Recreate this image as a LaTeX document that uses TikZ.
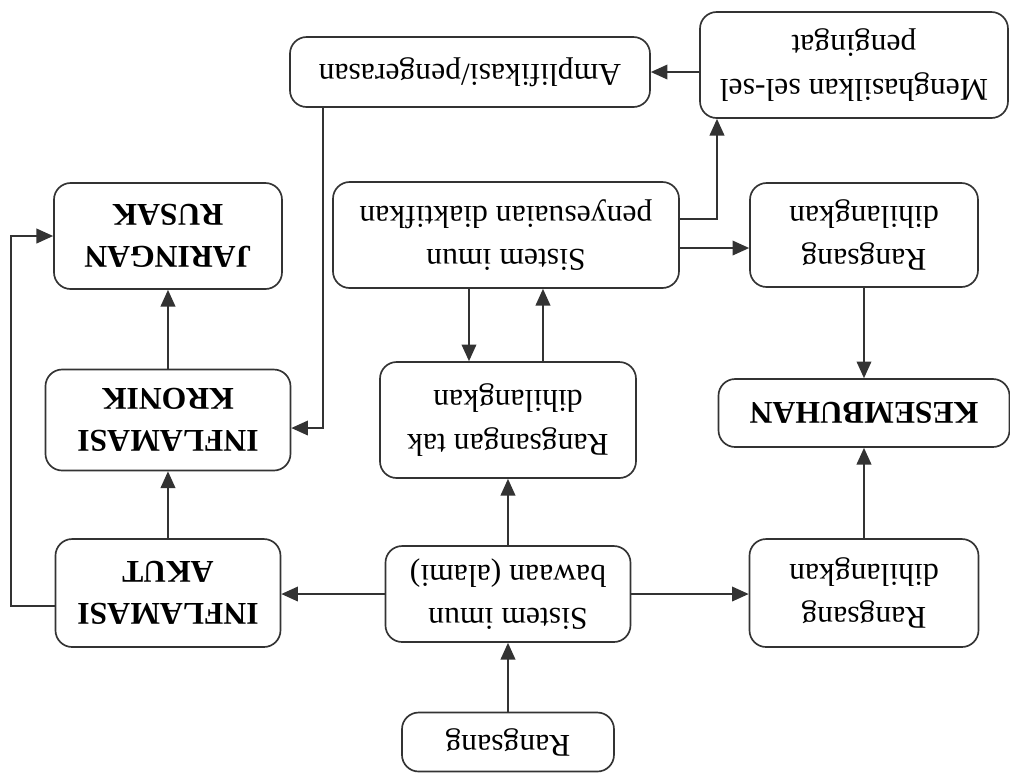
\documentclass[tikz,border=0pt]{standalone}
\usepackage{fontspec}
\setmainfont{Liberation Serif}
\usetikzlibrary{arrows.meta}

\tikzset{
  kotak/.style={draw=black!80, line width=0.5pt, rounded corners=5pt, align=center,
    inner sep=2pt, font=\fontsize{9.5}{13}\selectfont},
  tebal/.style={kotak, font=\fontsize{9.5}{12.5}\selectfont\bfseries},
  panah/.style={->, draw=black!80, line width=0.5pt}
}

\begin{document}
\begin{tikzpicture}
            [>={Triangle[length=5pt,width=4.4pt]},
            x=0.3pt, y=0.3pt, rotate=180, transform shape
            ]
            \useasboundingbox (0,0) rectangle (1010,773);
            % kolom tengah
            \node[kotak, minimum width=63.6pt, minimum height=17.7pt] (Rang) at (502,742) {Rangsang};
            \node[kotak, minimum width=73.5pt, minimum height=28.8pt] (Bawaan) at (502,594) {Sistem imun\\bawaan (alami)};
            \node[kotak, minimum width=76.8pt, minimum height=34.8pt] (Tak) at (502,420) {Rangsangan tak\\dihilangkan};
            \node[kotak, minimum width=103.8pt, minimum height=31.8pt] (Adaptif) at (504,235) {Sistem imun\\penyesuaian diaktifkan};
            \node[kotak, minimum width=108pt, minimum height=21pt] (Ampli) at (540,72) {Amplifikasi/pengerasan};
            % kolom kiri
            \node[kotak, minimum width=68.7pt, minimum height=32.4pt] (HilangA) at (146,593) {Rangsang\\dihilangkan};
            \node[tebal, minimum width=87.3pt, minimum height=20.4pt] (Sembuh) at (146,413) {KESEMBUHAN};
            \node[kotak, minimum width=68.4pt, minimum height=31.2pt] (HilangB) at (146,235) {Rangsang\\dihilangkan};
            \node[kotak, minimum width=92.4pt, minimum height=31.8pt] (Memori) at (156,65) {Menghasilkan sel-sel\\pengingat};
            % kolom kanan
            \node[tebal, minimum width=67.5pt, minimum height=32.4pt] (Akut) at (842,593) {INFLAMASI\\AKUT};
            \node[tebal, minimum width=73.5pt, minimum height=30.3pt] (Kronik) at (842,420) {INFLAMASI\\KRONIK};
            \node[tebal, minimum width=68.4pt, minimum height=31.8pt] (Rusak) at (842,236) {JARINGAN\\RUSAK};

            \coordinate (lup) at (999,606);
            \coordinate (naik) at (541,300);
            \coordinate (turun) at (467,300);
            \coordinate (kanan) at (300,248);
            \coordinate (belok) at (293,219);
            \coordinate (balik) at (687,428);

            \draw[panah] (Rang) -- (Bawaan);
            \draw[panah] (Bawaan) -- (Tak);
            \draw[panah] (Bawaan.east) -- (Bawaan.east -| Akut.west);
            \draw[panah] (Bawaan.west) -- (Bawaan.west -| HilangA.east);
            \draw[panah] (HilangA) -- (Sembuh);
            \draw[panah] (HilangB) -- (Sembuh);
            \draw[panah] (Akut) -- (Kronik);
            \draw[panah] (Kronik) -- (Rusak);
            \draw[panah] (Akut.east |- lup) -- (lup) |- (Rusak.east);
            \draw[panah] (Adaptif.north -| naik) -- (Tak.south -| naik);
            \draw[panah] (Tak.south -| turun) -- (Adaptif.north -| turun);
            \draw[panah] (Adaptif.west |- kanan) -- (HilangB.east |- kanan);
            \draw[panah] (Adaptif.west |- belok) -| (Memori.north -| belok);
            \draw[panah] (Memori.east |- Ampli) -- (Ampli.west);
            \draw[panah] (Ampli.north -| balik) |- (Kronik.west |- balik);
          \end{tikzpicture}
\end{document}
